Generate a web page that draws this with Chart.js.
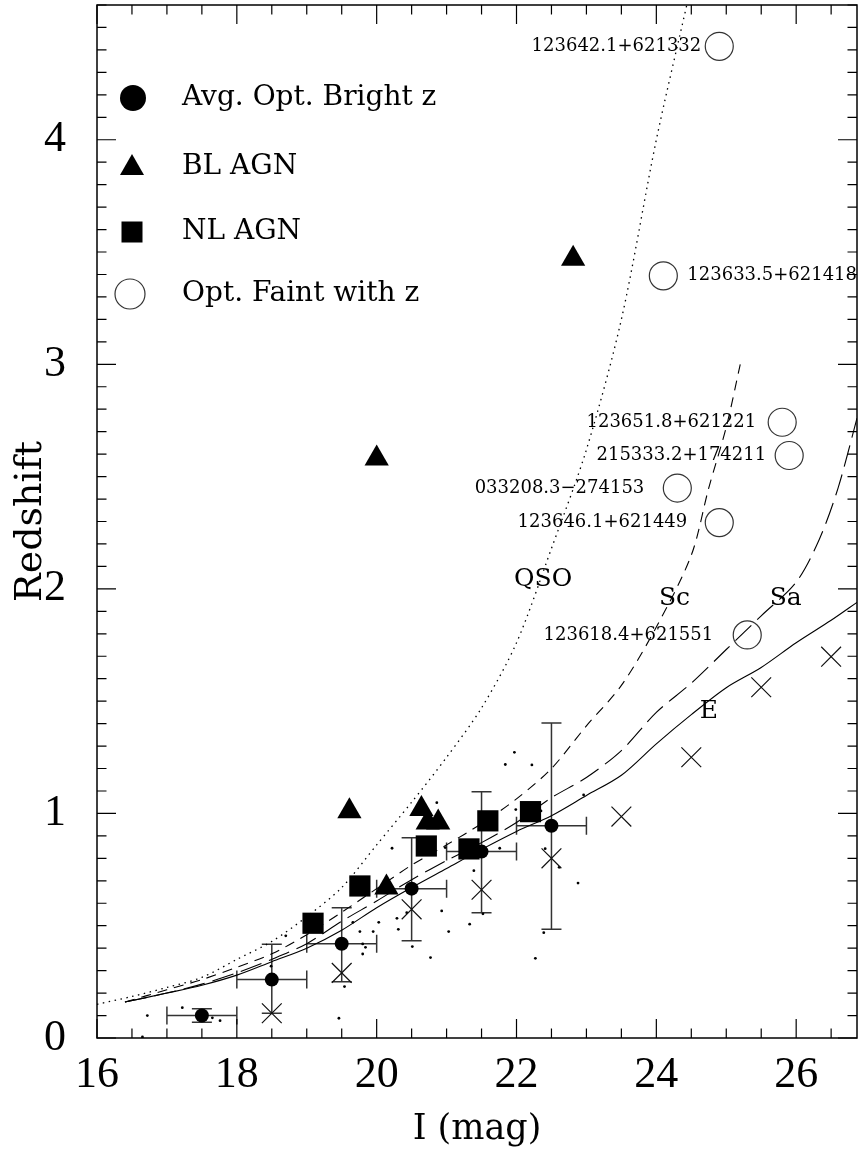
<!DOCTYPE html>
<html>
<head>
<meta charset="utf-8">
<script src="https://cdn.jsdelivr.net/npm/chart.js@4.4.1/dist/chart.umd.min.js"></script>
<style>
  html, body { margin: 0; padding: 0; background: #fff; }
  #wrap { width: 858px; height: 1151px; }
</style>
</head>
<body>
<div id="wrap"><canvas id="myChart" width="858" height="1151"></canvas></div>
<script>
// average optically bright sources, one per 1 mag bin
const avgX   = [17.5, 18.5, 19.5, 20.5, 21.5, 22.5];
const avgY   = [0.10, 0.26, 0.42, 0.665, 0.83, 0.945];
const avgYLo = [0.07, 0.11, 0.25, 0.433, 0.558, 0.484];
const avgYHi = [0.13, 0.417, 0.58, 0.892, 1.097, 1.403];
const avgXLo = [17, 18, 19, 20, 21, 22];
const avgXHi = [18, 19, 20, 21, 22, 23];

// crosses (no legend entry)
const crossX = [18.5, 19.5, 20.5, 21.5, 22.5, 23.5, 24.5, 25.5, 26.5];
const crossY = [0.11, 0.29, 0.573, 0.66, 0.80, 0.986, 1.25, 1.562, 1.698];

// broad line AGN
const blX = [19.61, 20.0, 22.81, 20.64, 20.73, 20.88, 20.14];
const blY = [1.01, 2.58, 3.47, 1.02, 0.96, 0.96, 0.67];

// narrow line AGN
const nlX = [19.09, 19.76, 20.71, 21.32, 21.59, 22.2];
const nlY = [0.511, 0.677, 0.855, 0.842, 0.967, 1.008];

// optically faint sources with redshift
const faintX = [24.9, 24.1, 25.8, 25.9, 24.3, 24.9, 25.3];
const faintY = [4.416, 3.394, 2.742, 2.594, 2.449, 2.295, 1.795];
const faintNames = ['123642.1+621332', '123633.5+621418', '123651.8+621221', '215333.2+174211',
                    '033208.3\u2212274153', '123646.1+621449', '123618.4+621551'];
const faintDx = [-18, 24, -26, -23, -33, -32, -34]; // label offset from circle, px

// individual sources (small dots)
const dotX = [16.65, 16.72, 17.22, 17.65, 17.76, 18.49, 18.70, 19.46, 19.54, 19.66, 19.76, 19.80, 19.84, 19.80,
              19.95, 20.03, 20.22, 20.29, 20.31, 20.43, 20.51, 20.77, 20.86, 20.93, 20.98, 21.03, 21.33, 21.39,
              21.52, 21.76, 21.84, 21.97, 21.99, 22.22, 22.35, 22.27, 22.39, 22.41, 22.61, 22.88, 22.96];
const dotY = [0.005, 0.10, 0.135, 0.09, 0.077, 0.32, 0.455, 0.088, 0.229, 0.515, 0.474, 0.419, 0.404, 0.374,
              0.474, 0.515, 0.845, 0.533, 0.484, 0.558, 0.407, 0.358, 1.048, 0.566, 0.848, 0.474, 0.507, 0.745,
              0.553, 0.845, 1.218, 1.272, 1.017, 1.216, 1.011, 0.355, 0.469, 0.843, 0.76, 0.69, 1.082];

// model tracks
const qsoX = [16.0, 16.5, 17.0, 17.5, 18.0, 18.5, 19.0, 19.5, 20.0, 20.5, 21.0, 21.5, 22.0, 22.5, 23.0, 23.5, 24.0, 24.45];
const qsoY = [0.15, 0.185, 0.225, 0.27, 0.35, 0.43, 0.54, 0.67, 0.86, 1.05, 1.25, 1.47, 1.76, 2.18, 2.62, 3.2, 4.0, 4.62];
const scX = [16.4, 17.0, 17.5, 18.0, 18.5, 19.0, 19.5, 20.0, 20.5, 21.0, 21.5, 22.0, 22.5, 23.0, 23.5, 24.0, 24.5, 24.75, 25.0, 25.2];
const scY = [0.16, 0.215, 0.26, 0.315, 0.375, 0.46, 0.56, 0.665, 0.77, 0.86, 0.955, 1.065, 1.2, 1.39, 1.57, 1.83, 2.15, 2.45, 2.72, 3.0];
const saX = [16.4, 17.0, 17.5, 18.0, 18.5, 19.0, 19.5, 20.0, 20.5, 21.0, 21.5, 22.0, 22.5, 23.0, 23.5, 24.0, 24.5, 25.0, 25.5, 26.0, 26.33, 26.6, 26.87];
const saY = [0.16, 0.20, 0.24, 0.29, 0.35, 0.42, 0.52, 0.61, 0.705, 0.79, 0.87, 0.96, 1.07, 1.16, 1.28, 1.45, 1.58, 1.73, 1.88, 2.03, 2.22, 2.45, 2.76];
const eX = [16.4, 17.0, 17.5, 18.0, 18.5, 19.0, 19.5, 20.0, 20.5, 21.0, 21.5, 22.0, 22.5, 23.0, 23.5, 24.0, 24.5, 25.0, 25.5, 26.0, 26.5, 26.87];
const eY = [0.16, 0.20, 0.235, 0.28, 0.34, 0.40, 0.48, 0.58, 0.67, 0.755, 0.84, 0.92, 0.99, 1.08, 1.17, 1.31, 1.44, 1.56, 1.65, 1.76, 1.86, 1.94];

// curve names placed in the plot
const curveNames = ['QSO', 'Sc', 'Sa', 'E'];
const curveNameX = [22.38, 24.26, 25.85, 24.75];
const curveNameY = [2.04, 1.958, 1.958, 1.454];

// legend
const legendNames = ['Avg. Opt. Bright z', 'BL AGN', 'NL AGN', 'Opt. Faint with z'];

// axis ticks
const xMajor = [16, 18, 20, 22, 24, 26];
const yMajor = [0, 1, 2, 3, 4];

const SERIF = "'DejaVu Serif', 'Liberation Serif', serif";
const TICKFONT = "'Liberation Serif', 'DejaVu Serif', serif";

function pts(xs, ys) {
    return xs.map((x, i) => ({x: x, y: ys[i]}));
}

const decorPlugin = {
    id: 'decor',
    beforeDatasetsDraw(chart) {
        const ctx = chart.ctx, sx = chart.scales.x, sy = chart.scales.y;
        ctx.save();
        ctx.strokeStyle = '#333';
        ctx.lineWidth = 1.5;
        avgX.forEach((x, i) => {
            const px = sx.getPixelForValue(x), py = sy.getPixelForValue(avgY[i]);
            const x0 = sx.getPixelForValue(avgXLo[i]), x1 = sx.getPixelForValue(avgXHi[i]);
            const y0 = sy.getPixelForValue(avgYLo[i]), y1 = sy.getPixelForValue(avgYHi[i]);
            ctx.beginPath();
            ctx.moveTo(x0, py); ctx.lineTo(x1, py);
            ctx.moveTo(x0, py - 9); ctx.lineTo(x0, py + 9);
            ctx.moveTo(x1, py - 9); ctx.lineTo(x1, py + 9);
            ctx.moveTo(px, y0); ctx.lineTo(px, y1);
            ctx.moveTo(px - 10, y0); ctx.lineTo(px + 10, y0);
            ctx.moveTo(px - 10, y1); ctx.lineTo(px + 10, y1);
            ctx.stroke();
        });
        ctx.restore();
    },
    afterDatasetsDraw(chart) {
        const ctx = chart.ctx, sx = chart.scales.x, sy = chart.scales.y, a = chart.chartArea;
        ctx.save();
        // frame
        ctx.strokeStyle = '#000';
        ctx.lineWidth = 1.5;
        ctx.strokeRect(a.left, a.top, a.right - a.left, a.bottom - a.top);
        ctx.lineWidth = 1.2;
        ctx.beginPath();
        for (let v = sx.min; v <= sx.max + 1e-9; v += 0.5) {
            const p = sx.getPixelForValue(v);
            const len = xMajor.includes(Math.round(v * 10) / 10) ? 19 : 9.5;
            ctx.moveTo(p, a.bottom); ctx.lineTo(p, a.bottom - len);
            ctx.moveTo(p, a.top); ctx.lineTo(p, a.top + len);
        }
        for (let k = 0; k <= Math.round(sy.max * 10); k++) {
            const v = k / 10;
            const p = sy.getPixelForValue(v);
            const len = yMajor.includes(v) ? 19 : 9.5;
            ctx.moveTo(a.left, p); ctx.lineTo(a.left + len, p);
            ctx.moveTo(a.right, p); ctx.lineTo(a.right - len, p);
        }
        ctx.stroke();

        // labels of faint sources
        ctx.fillStyle = '#000';
        ctx.textBaseline = 'middle';
        ctx.font = '18px ' + SERIF;
        faintNames.forEach((name, i) => {
            const px = sx.getPixelForValue(faintX[i]), py = sy.getPixelForValue(faintY[i]);
            ctx.textAlign = faintDx[i] < 0 ? 'right' : 'left';
            ctx.fillText(name, px + faintDx[i], py);
        });

        // curve names
        ctx.font = '25px ' + SERIF;
        ctx.textAlign = 'center';
        curveNames.forEach((name, i) => {
            ctx.fillText(name, sx.getPixelForValue(curveNameX[i]), sy.getPixelForValue(curveNameY[i]));
        });

        // legend
        const lx = 132, tx = 182, rows = [98, 167, 232, 294];
        ctx.font = '28px ' + SERIF;
        ctx.textAlign = 'left';
        legendNames.forEach((name, i) => ctx.fillText(name, tx, rows[i]));
        ctx.beginPath();
        ctx.arc(lx + 1, rows[0], 13, 0, Math.PI * 2);
        ctx.fill();
        ctx.beginPath();
        ctx.moveTo(lx, rows[1] - 13);
        ctx.lineTo(lx + 12, rows[1] + 8);
        ctx.lineTo(lx - 12, rows[1] + 8);
        ctx.closePath();
        ctx.fill();
        ctx.fillRect(lx - 10.5, rows[2] - 10.5, 21, 21);
        ctx.strokeStyle = '#333';
        ctx.lineWidth = 1.2;
        ctx.beginPath();
        ctx.arc(lx - 2, rows[3], 15, 0, Math.PI * 2);
        ctx.stroke();
        ctx.restore();
    }
};

const ctx = document.getElementById('myChart');
const myChart = new Chart(ctx, {
    type: 'scatter',
    data: {
        datasets: [
            {
                label: 'Opt. Faint with z',
                data: pts(faintX, faintY),
                pointStyle: 'circle',
                pointRadius: 14,
                backgroundColor: 'rgba(0,0,0,0)',
                borderColor: '#333',
                borderWidth: 1.2,
            },
            {
                label: 'BL AGN',
                data: pts(blX, blY),
                pointStyle: 'triangle',
                pointRadius: 14,
                backgroundColor: '#000',
                borderWidth: 0,
            },
            {
                label: 'NL AGN',
                data: pts(nlX, nlY),
                pointStyle: 'rect',
                pointRadius: 15,
                backgroundColor: '#000',
                borderWidth: 0,
            },
            {
                label: 'Avg. Opt. Bright z',
                data: pts(avgX, avgY),
                pointStyle: 'circle',
                pointRadius: 7,
                backgroundColor: '#000',
                borderWidth: 0,
            },
            {
                label: 'crosses',
                data: pts(crossX, crossY),
                pointStyle: 'crossRot',
                pointRadius: 14,
                borderColor: '#111',
                borderWidth: 1.2,
            },
            {
                label: 'sources',
                data: pts(dotX, dotY),
                pointRadius: 1.4,
                backgroundColor: '#000',
                borderWidth: 0,
            },
            {
                label: 'QSO',
                data: pts(qsoX, qsoY),
                showLine: true,
                pointRadius: 0,
                borderColor: '#000',
                borderWidth: 1.3,
                borderDash: [1.5, 4.5],
                tension: 0.3,
            },
            {
                label: 'Sc',
                data: pts(scX, scY),
                showLine: true,
                pointRadius: 0,
                borderColor: '#000',
                borderWidth: 1.1,
                borderDash: [10, 7],
                tension: 0.3,
            },
            {
                label: 'Sa',
                data: pts(saX, saY),
                showLine: true,
                pointRadius: 0,
                borderColor: '#000',
                borderWidth: 1.1,
                borderDash: [22, 8],
                tension: 0.3,
            },
            {
                label: 'E',
                data: pts(eX, eY),
                showLine: true,
                pointRadius: 0,
                borderColor: '#000',
                borderWidth: 1.1,
                tension: 0.3,
            },
        ]
    },
    options: {
        responsive: false,
        animation: false,
        events: [],
        layout: { autoPadding: false, padding: { top: 5, right: 1, left: 0, bottom: 0 } },
        scales: {
            x: {
                type: 'linear',
                min: 16,
                max: 26.87,
                afterFit: s => { s.height = 113; s.paddingLeft = 0; s.paddingRight = 0; },
                grid: { display: false, drawTicks: false },
                border: { display: false },
                ticks: {
                    stepSize: 2,
                    includeBounds: false,
                    padding: 15,
                    color: '#000',
                    font: { family: TICKFONT, size: 44, lineHeight: 1 },
                },
                title: {
                    display: true,
                    text: 'I (mag)',
                    color: '#000',
                    font: { family: SERIF, size: 35, lineHeight: 1 },
                    padding: { top: 0, bottom: 4 },
                },
            },
            y: {
                type: 'linear',
                min: 0,
                max: 4.6,
                afterFit: s => { s.width = 97; s.paddingTop = 0; s.paddingBottom = 0; },
                grid: { display: false, drawTicks: false },
                border: { display: false },
                ticks: {
                    stepSize: 1,
                    includeBounds: false,
                    padding: 31,
                    color: '#000',
                    font: { family: TICKFONT, size: 44, lineHeight: 1 },
                },
                title: {
                    display: true,
                    text: 'Redshift',
                    color: '#000',
                    font: { family: SERIF, size: 38, lineHeight: 1 },
                    padding: { top: 12, bottom: 0 },
                },
            }
        },
        plugins: {
            legend: { display: false },
            tooltip: { enabled: false },
        }
    },
    plugins: [decorPlugin]
});
</script>
</body>
</html>
